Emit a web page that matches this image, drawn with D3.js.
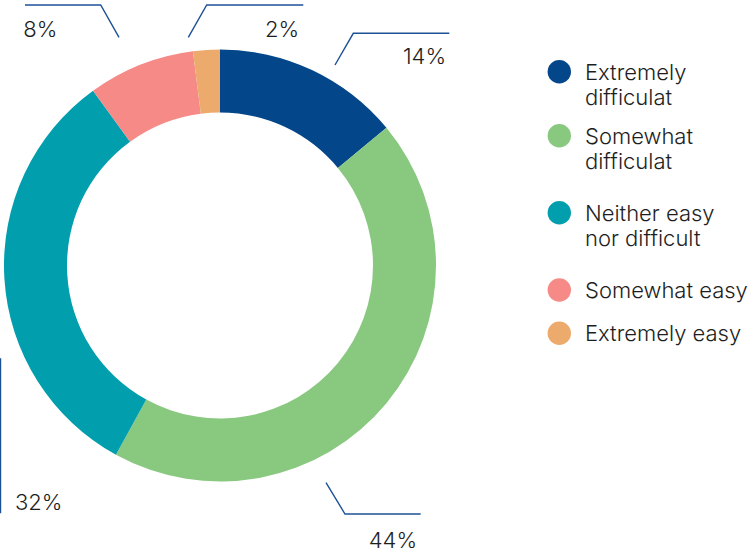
<!DOCTYPE html>
<html>
<head>
<meta charset="utf-8">
<script src="https://cdn.jsdelivr.net/npm/d3@7"></script>
<style>
  html, body { margin: 0; padding: 0; background: #ffffff; }
  svg { display: block; }
  text { font-family: Inter, "Noto Sans", sans-serif; fill: #1e1e1e; font-weight: 300; }
</style>
</head>
<body>
<svg id="chart" width="755" height="549"></svg>
<script>
// Survey answers: how difficult was it?
const categories = ["Extremely difficulat", "Somewhat difficulat", "Neither easy nor difficult", "Somewhat easy", "Extremely easy"];
const legendLines = [["Extremely", "difficulat"], ["Somewhat", "difficulat"], ["Neither easy", "nor difficult"], ["Somewhat easy"], ["Extremely easy"]];
const values = [14, 44, 32, 8, 2];
const colors = ["#03468a", "#88c87f", "#019eae", "#f58a87", "#ecab6d"];

const width = 755, height = 549;
const cx = 220, cy = 265.5;
const outerR = 216, innerR = 153;

const svg = d3.select("#chart");

const pie = d3.pie().sort(null).value(d => d)(values);
const arc = d3.arc().innerRadius(innerR).outerRadius(outerR);

const g = svg.append("g").attr("transform", `translate(${cx},${cy})`);
g.selectAll("path.slice")
  .data(pie)
  .join("path")
  .attr("class", "slice")
  .attr("d", arc)
  .attr("fill", (d, i) => colors[i]);

// Leader lines and value labels, placed around the ring (offsets from the ring centre)
const leaderColor = "#1d5196";
const labelLayout = [
  { pts: [[115, -200.5], [133.3, -232.2], [229.3, -232.2]], tx: 226, ty: -201.5, anchor: "end" },
  { pts: [[106, 217.2], [125, 248.5], [200.7, 248.5]], tx: 197, ty: 282.8, anchor: "end" },
  { pts: [[-219.5, 92.8], [-219.5, 247.8]], tx: -205, ty: 244.5, anchor: "start" },
  { pts: [[-101, -228.2], [-119.3, -260.5], [-195, -260.5]], tx: -196.7, ty: -228.8, anchor: "start" },
  { pts: [[-31.7, -228.2], [-13.3, -260.5], [83.3, -260.5]], tx: 79, ty: -228.8, anchor: "end" }
];

const line = d3.line();
g.selectAll("path.leader")
  .data(labelLayout)
  .join("path")
  .attr("class", "leader")
  .attr("d", d => line(d.pts))
  .attr("fill", "none")
  .attr("stroke", leaderColor)
  .attr("stroke-width", 1.4);

g.selectAll("text.value")
  .data(labelLayout)
  .join("text")
  .attr("class", "value")
  .attr("x", d => d.tx)
  .attr("y", d => d.ty)
  .attr("text-anchor", d => d.anchor)
  .attr("font-size", 22)
  .text((d, i) => values[i] + "%");

// Legend
const legendY = [71.7, 135.7, 212.7, 290, 333.3];
const legend = svg.append("g").attr("transform", "translate(559.3,0)");
const items = legend.selectAll("g.item")
  .data(categories)
  .join("g")
  .attr("class", "item")
  .attr("transform", (d, i) => `translate(0,${legendY[i]})`);
items.append("circle")
  .attr("r", 11.7)
  .attr("fill", (d, i) => colors[i]);
items.append("text")
  .attr("x", 25.7)
  .attr("y", 7.8)
  .attr("font-size", 22)
  .selectAll("tspan")
  .data((d, i) => legendLines[i])
  .join("tspan")
  .attr("x", 25.7)
  .attr("dy", (d, j) => j === 0 ? 0 : 25.8)
  .text(d => d);
</script>
</body>
</html>
